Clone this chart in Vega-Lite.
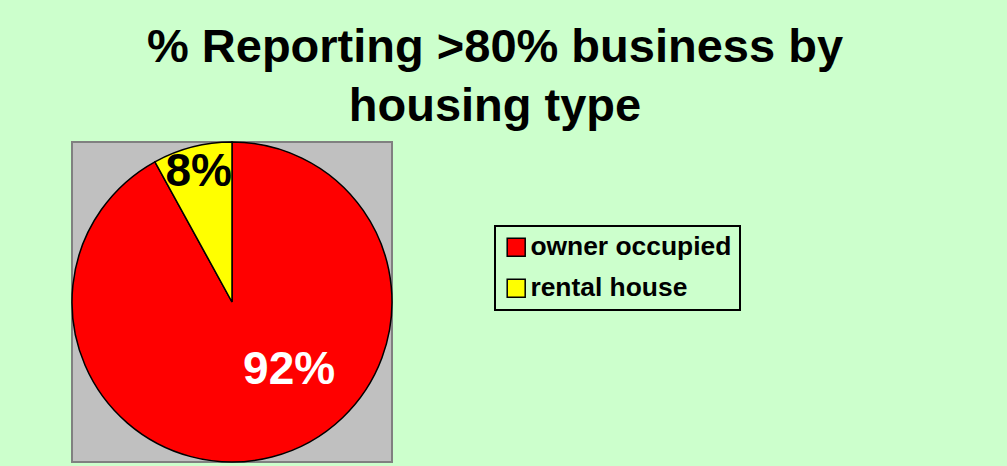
{
  "$schema": "https://vega.github.io/schema/vega-lite/v6.json",
  "width": 320,
  "height": 320,
  "autosize": {"type": "none"},
  "padding": {"left": 72, "top": 142, "right": 615, "bottom": 4},
  "background": "#CCFFCC",
  "config": {
    "view": {"fill": "#C0C0C0", "stroke": "#808080", "strokeWidth": 2},
    "font": "Liberation Sans",
    "legend": {"strokeWidth": 2}
  },
  "title": {
    "text": ["% Reporting >80% business by", "housing type"],
    "font": "Liberation Sans",
    "fontSize": 47,
    "fontWeight": "bold",
    "color": "#000000",
    "lineHeight": 59,
    "anchor": "middle",
    "frame": "group",
    "dx": 263,
    "offset": 8
  },
  "data": {
    "values": [
      {"category": "owner occupied", "value": 92, "label": "92%"},
      {"category": "rental house", "value": 8, "label": "8%"}
    ]
  },
  "layer": [
    {
      "data": {"values": [{"panel": "plot"}]},
      "mark": {"type": "rect", "fill": "#C0C0C0", "stroke": "#808080", "strokeWidth": 2},
      "encoding": {
        "x": {"value": 0},
        "x2": {"value": "width"},
        "y": {"value": 0},
        "y2": {"value": "height"}
      }
    },
    {
      "mark": {"type": "arc", "outerRadius": 160, "stroke": "#000000", "strokeWidth": 1.5},
      "encoding": {
        "theta": {"field": "value", "type": "quantitative", "stack": true},
        "color": {
          "field": "category",
          "type": "nominal",
          "scale": {"domain": ["owner occupied", "rental house"], "range": ["#FF0000", "#FFFF00"]},
          "legend": {
            "title": null,
            "orient": "none",
            "legendX": 423,
            "legendY": 84,
            "strokeColor": "#000000",
            "fillColor": "#CCFFCC",
            "padding": 8,
            "symbolType": "square",
            "symbolSize": 324,
            "symbolStrokeColor": "#000000",
            "symbolStrokeWidth": 1.5,
            "symbolOpacity": 1,
            "labelFont": "Liberation Sans",
            "labelFontSize": 26.4,
            "labelFontWeight": "bold",
            "labelColor": "#000000",
            "labelOffset": 1,
            "rowPadding": 14,
            "labelLimit": 400
          }
        }
      }
    },
    {
      "mark": {"type": "text", "radius": 134, "font": "Liberation Sans", "fontWeight": "bold", "fontSize": 46, "baseline": "middle", "align": "center"},
      "encoding": {
        "theta": {"field": "value", "type": "quantitative", "stack": true},
        "order": {"field": "category", "type": "ordinal", "sort": "ascending"},
        "fill": {"value": "#000000"},
        "text": {"field": "label"},
        "opacity": {"condition": {"test": "datum.category === 'rental house'", "value": 1}, "value": 0}
      }
    },
    {
      "mark": {"type": "text", "radius": 89, "dx": 35, "dy": -18, "font": "Liberation Sans", "fontWeight": "bold", "fontSize": 46, "baseline": "middle", "align": "center"},
      "encoding": {
        "theta": {"field": "value", "type": "quantitative", "stack": true},
        "order": {"field": "category", "type": "ordinal", "sort": "ascending"},
        "fill": {"value": "#FFFFFF"},
        "text": {"field": "label"},
        "opacity": {"condition": {"test": "datum.category === 'owner occupied'", "value": 1}, "value": 0}
      }
    }
  ]
}
